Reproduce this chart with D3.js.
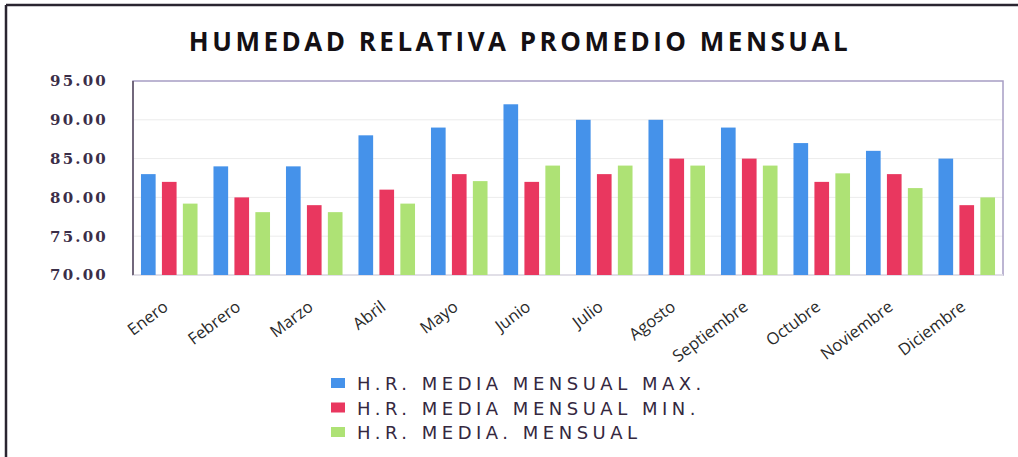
<!DOCTYPE html>
<html>
<head>
<meta charset="utf-8">
<script src="https://cdn.jsdelivr.net/npm/d3@7"></script>
<style>
  body { margin: 0; background: #fff; }
  svg { display: block; }
</style>
</head>
<body>
<div id="chart"></div>
<script>
// data
var months = ["Enero", "Febrero", "Marzo", "Abril", "Mayo", "Junio", "Julio",
              "Agosto", "Septiembre", "Octubre", "Noviembre", "Diciembre"];
var hrMax   = [83, 84, 84, 88, 89, 92, 90, 90, 89, 87, 86, 85];
var hrMin   = [82, 80, 79, 81, 83, 82, 83, 85, 85, 82, 83, 79];
var hrMedia = [79.2, 78.1, 78.1, 79.2, 82.1, 84.1, 84.1, 84.1, 84.1, 83.1, 81.2, 80.0];
var seriesNames = ["H.R. MEDIA MENSUAL MAX.", "H.R. MEDIA MENSUAL MIN.", "H.R. MEDIA. MENSUAL"];
var yTicks = [70, 75, 80, 85, 90, 95];

var colors = ["#4592ea", "#e9375f", "#aee275"];
var series = [hrMax, hrMin, hrMedia];

var W = 1018, H = 457;
var margin = {top: 81, right: 15, bottom: 182, left: 133};
var width = W - margin.left - margin.right;
var height = H - margin.top - margin.bottom;

var svg = d3.select("#chart").append("svg")
    .attr("width", W).attr("height", H);

// outer frame (only left and top visible)
svg.append("line").attr("x1", 6).attr("x2", 6).attr("y1", 5).attr("y2", H)
    .attr("stroke", "#2a2530").attr("stroke-width", 2.5);
svg.append("line").attr("x1", 6).attr("x2", W).attr("y1", 5).attr("y2", 5)
    .attr("stroke", "#2a2530").attr("stroke-width", 2.5);

// title
svg.append("text")
    .attr("x", 520).attr("y", 51)
    .attr("text-anchor", "middle")
    .style("font-family", "'Open Sans', sans-serif")
    .style("font-weight", "bold")
    .style("font-size", "26px")
    .style("letter-spacing", "3.5px")
    .attr("fill", "#141014")
    .text("HUMEDAD RELATIVA PROMEDIO MENSUAL");

var g = svg.append("g")
    .attr("transform", "translate(" + margin.left + "," + margin.top + ")");

var x0 = d3.scaleBand().domain(months).range([0, width]).paddingInner(0.22).paddingOuter(0.11);
var x1 = d3.scaleBand().domain(d3.range(3)).range([0, x0.bandwidth()]).paddingInner(0.3);
var y = d3.scaleLinear().domain([70, 95]).range([height, 0]);

// gridlines
g.selectAll("line.grid")
    .data(yTicks.slice(1, -1))
    .enter().append("line")
    .attr("class", "grid")
    .attr("x1", 0).attr("x2", width)
    .attr("y1", function(d) { return y(d); })
    .attr("y2", function(d) { return y(d); })
    .attr("stroke", "#ececec").attr("stroke-width", 1);

// plot frame
g.append("rect").attr("x", 0).attr("y", 0).attr("width", width).attr("height", height)
    .attr("fill", "none").attr("stroke", "#a79dc4").attr("stroke-width", 1.5);
g.append("line").attr("x1", 0).attr("x2", width).attr("y1", height).attr("y2", height)
    .attr("stroke", "#eeeeee").attr("stroke-width", 1.5);

// bars
var groups = g.selectAll("g.month")
    .data(months)
    .enter().append("g")
    .attr("class", "month")
    .attr("transform", function(d) { return "translate(" + x0(d) + ",0)"; });

groups.selectAll("rect")
    .data(function(d, i) { return series.map(function(s, k) { return {k: k, v: s[i]}; }); })
    .enter().append("rect")
    .attr("x", function(d) { return x1(d.k); })
    .attr("width", x1.bandwidth())
    .attr("y", function(d) { return y(d.v); })
    .attr("height", function(d) { return height - y(d.v); })
    .attr("fill", function(d) { return colors[d.k]; });

// left axis line
g.append("line").attr("x1", 0).attr("x2", 0).attr("y1", 0).attr("y2", height)
    .attr("stroke", "#5a4f5f").attr("stroke-width", 1.5);

// y axis
var yAxis = d3.axisLeft(y).tickValues(yTicks).tickSize(0).tickPadding(25)
    .tickFormat(d3.format(".2f"));
var ya = g.append("g").attr("class", "y axis").call(yAxis);
ya.select(".domain").remove();
ya.selectAll("text")
    .style("font-family", "'DejaVu Serif', serif")
    .style("font-weight", "bold")
    .style("font-size", "15px")
    .style("letter-spacing", "2.2px")
    .attr("fill", "#3b2e48");

// x axis
var xAxis = d3.axisBottom(x0).tickSize(0).tickPadding(0);
var xa = g.append("g").attr("class", "x axis")
    .attr("transform", "translate(0," + height + ")")
    .call(xAxis);
xa.select(".domain").remove();
xa.selectAll("text")
    .style("font-family", "'Open Sans', sans-serif")
    .style("font-size", "16.5px")
    .attr("fill", "#2a2a2a")
    .style("text-anchor", "end")
    .attr("x", 0).attr("y", 0).attr("dy", 0)
    .attr("transform", "translate(0,34) rotate(-37)");

// legend
var legend = svg.append("g").attr("transform", "translate(331,375)");
var items = legend.selectAll("g")
    .data(seriesNames)
    .enter().append("g")
    .attr("transform", function(d, i) { return "translate(0," + (i * 24.5) + ")"; });
items.append("rect")
    .attr("x", 0).attr("y", 3).attr("width", 14).attr("height", 10)
    .attr("fill", function(d, i) { return colors[i]; });
items.append("text")
    .attr("x", 26).attr("y", 15)
    .style("font-family", "'DejaVu Sans', sans-serif")
    .style("font-size", "18px")
    .style("letter-spacing", "4.5px")
    .attr("fill", "#35283f")
    .text(function(d) { return d; });
</script>
</body>
</html>
